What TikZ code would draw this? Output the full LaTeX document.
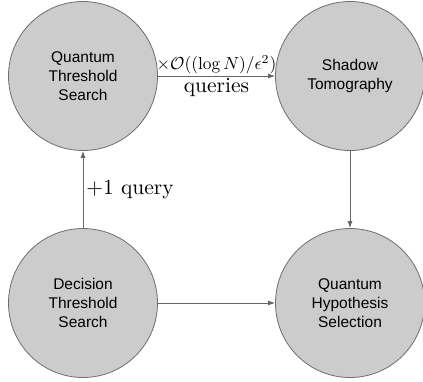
\documentclass[tikz,border=0pt]{standalone}
\usepackage{fontspec}
\newfontfamily\ballfont{Liberation Sans}
\usetikzlibrary{arrows.meta}

\definecolor{ballfill}{HTML}{CCCCCC}
\definecolor{balledge}{HTML}{6E6E6E}
\definecolor{linkgray}{HTML}{666666}

\tikzset{
  ball/.style={draw=balledge,fill=ballfill,circle,line width=0.8pt,
    minimum size=149pt,inner sep=0pt,align=center,
    font=\ballfont\fontsize{15.5}{19}\selectfont},
  link/.style={draw=linkgray,line width=0.8pt,-{Latex[length=7pt,width=5pt]}},
  cost/.style={scale=2.15,transform shape,inner sep=0.6pt}
}

\begin{document}
\begin{tikzpicture}[x=1pt,y=-1pt]
  \useasboundingbox (0,0) rectangle (423,381);

  \node[ball] (QTS) at (83,76) {Quantum\\Threshold\\Search};
  \node[ball] (ST)  at (350,76) {Shadow\\Tomography};
  \node[ball] (DTS) at (83,303) {Decision\\Threshold\\Search};
  \node[ball] (QHS) at (350,303) {Quantum\\Hypothesis\\Selection};

  \draw[link] (QTS) -- (ST)
    node[midway,above,cost,scale=0.81] (cost1) {$\times\mathcal{O}((\log N)/\epsilon^2)$}
    node[midway,below,cost] (cost2) {queries};
  \draw[link] (ST) -- (QHS);
  \draw[link] (DTS) -- (QTS)
    node[midway,right,cost,inner sep=1.2pt] (cost3) {$+1$ query};
  \draw[link] (DTS) -- (QHS);

\end{tikzpicture}
\end{document}
